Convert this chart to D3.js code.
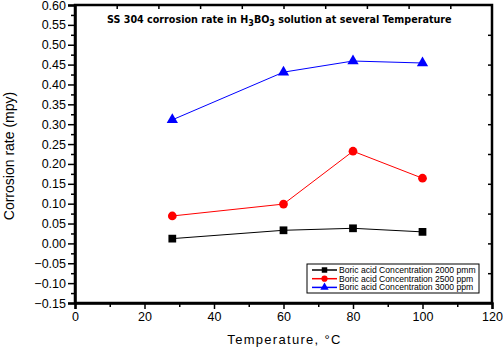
<!DOCTYPE html>
<html>
<head>
<meta charset="utf-8">
<script src="https://cdn.jsdelivr.net/npm/d3@7"></script>
<style>
  body { margin: 0; background: #fff; }
  text { font-family: "Liberation Sans", Arial, sans-serif; }
</style>
</head>
<body>
<script>
// data
var temps = [28, 60, 80, 100];
var rate2000 = [0.012, 0.033, 0.038, 0.029];
var rate2500 = [0.069, 0.099, 0.232, 0.164];
var rate3000 = [0.311, 0.431, 0.459, 0.454];
var seriesNames = ["Boric acid Concentration 2000 pmm",
                   "Boric acid Concentration 2500 ppm",
                   "Boric acid Concentration 3000 ppm"];
var seriesColors = ["#000000", "#ff0000", "#0000ff"];
var seriesShapes = [d3.symbolSquare, d3.symbolCircle, d3.symbolTriangle];
var yTicks = d3.range(-0.15, 0.6001, 0.05);
var xTicks = [0, 20, 40, 60, 80, 100, 120];

var margin = {left: 75, top: 5, right: 11, bottom: 47},
    width = 503 - margin.left - margin.right,
    height = 350 - margin.top - margin.bottom;

var svg = d3.select("body").append("svg")
    .attr("width", 503)
    .attr("height", 350)
  .append("g")
    .attr("transform", "translate(" + margin.left + "," + margin.top + ")");

var x = d3.scaleLinear().domain([0, 120]).range([0, width]);
var y = d3.scaleLinear().domain([-0.15, 0.60]).range([height, 0]);

// minor ticks
svg.append("g")
    .call(d3.axisLeft(y).tickValues(d3.range(-0.125, 0.6, 0.05)).tickSize(4).tickFormat(""))
    .call(g => g.select(".domain").remove())
    .selectAll("line").attr("stroke-width", 1.5);
svg.append("g")
    .attr("transform", "translate(0," + height + ")")
    .call(d3.axisBottom(x).tickValues(d3.range(10, 120, 20)).tickSize(4).tickFormat(""))
    .call(g => g.select(".domain").remove())
    .selectAll("line").attr("stroke-width", 1.5);

// left axis
var yAxis = svg.append("g")
    .call(d3.axisLeft(y).tickValues(yTicks).tickSize(7).tickPadding(2)
      .tickFormat(d => d3.format(".2f")(Math.round(d * 100) / 100)));
yAxis.selectAll("text").style("font-size", "12.5px").attr("fill", "#000");
yAxis.selectAll("line").attr("stroke-width", 1.5);

// bottom axis
var xAxis = svg.append("g")
    .attr("transform", "translate(0," + height + ")")
    .call(d3.axisBottom(x).tickValues(xTicks).tickSize(6).tickPadding(3));
xAxis.selectAll("text").style("font-size", "12.5px").attr("fill", "#000");
xAxis.selectAll("line").attr("stroke-width", 1.5);

// top and right inward ticks
svg.append("g")
    .call(d3.axisBottom(d3.scaleLinear().domain([0, 10]).range([0, width]))
      .tickValues(d3.range(1, 10)).tickSize(4).tickFormat(""))
    .call(g => g.select(".domain").remove())
    .selectAll("line").attr("stroke-width", 1.5);
svg.append("g")
    .attr("transform", "translate(" + width + ",0)")
    .call(d3.axisLeft(d3.scaleLinear().domain([0, 10]).range([height, 0]))
      .tickValues(d3.range(1, 10)).tickSize(4).tickFormat(""))
    .call(g => g.select(".domain").remove())
    .selectAll("line").attr("stroke-width", 1.5);

svg.selectAll(".domain").attr("stroke-width", 2.5);

// frame
svg.append("rect")
    .attr("width", width).attr("height", height)
    .attr("fill", "none").attr("stroke", "#000").attr("stroke-width", 2.5);

// series
var allSeries = [rate2000, rate2500, rate3000];
var line = d3.line().x((d, i) => x(temps[i])).y(d => y(d));
allSeries.forEach(function(vals, s) {
  svg.append("path")
      .datum(vals)
      .attr("d", line)
      .attr("fill", "none")
      .attr("stroke", seriesColors[s])
      .attr("stroke-width", 1);
  svg.selectAll(".pt" + s)
      .data(vals)
      .enter().append("path")
      .attr("class", "pt" + s)
      .attr("transform", (d, i) => "translate(" + x(temps[i]) + "," + y(d) + ")")
      .attr("d", d3.symbol().type(seriesShapes[s]).size(s == 2 ? 55 : 60))
      .attr("fill", seriesColors[s]);
});

// title
var title = svg.append("text")
    .attr("x", 32).attr("y", 18)
    .style("font-family", "'DejaVu Sans', Verdana, sans-serif")
    .style("font-weight", "bold")
    .style("font-size", "9.6px");
title.append("tspan").text("SS 304 corrosion rate in H");
title.append("tspan").attr("dy", 3).style("font-size", "8px").text("3");
title.append("tspan").attr("dy", -3).text("BO");
title.append("tspan").attr("dy", 3).style("font-size", "8px").text("3");
title.append("tspan").attr("dy", -3).text(" solution at several Temperature");

// legend
var lg = svg.append("g").attr("transform", "translate(232,259)");
lg.append("rect")
    .attr("width", 172).attr("height", 29)
    .attr("fill", "#fff").attr("stroke", "#000").attr("stroke-width", 1);
seriesNames.forEach(function(name, s) {
  var yy = 6 + s * 8.7;
  lg.append("line")
      .attr("x1", 5).attr("x2", 30).attr("y1", yy).attr("y2", yy)
      .attr("stroke", seriesColors[s]).attr("stroke-width", 1.5);
  lg.append("path")
      .attr("transform", "translate(17.5," + yy + ")")
      .attr("d", d3.symbol().type(seriesShapes[s]).size(30))
      .attr("fill", seriesColors[s]);
  lg.append("text")
      .attr("x", 32).attr("y", yy + 3)
      .style("font-size", "8.6px")
      .text(name);
});

// axis titles
svg.append("text")
    .attr("x", width / 2 + 1).attr("y", height + 41)
    .attr("text-anchor", "middle")
    .style("font-size", "13px")
    .style("letter-spacing", "1.3px")
    .text("Temperature, °C");

svg.append("text")
    .attr("transform", "translate(-61," + (height / 2 + 2) + ") rotate(-90)")
    .attr("text-anchor", "middle")
    .style("font-size", "14px")
    .text("Corrosion rate (mpy)");
</script>
</body>
</html>
